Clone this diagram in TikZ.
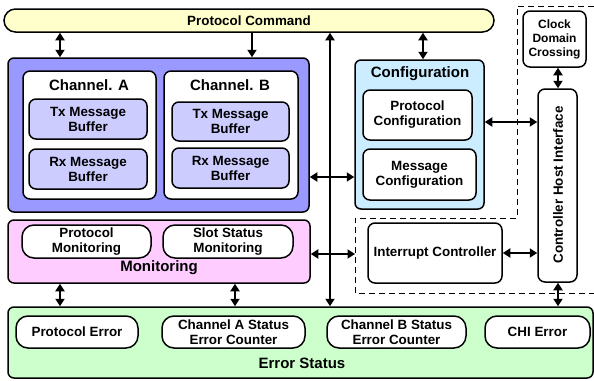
\documentclass[tikz,border=0pt]{standalone}
\usepackage{fontspec}
\setmainfont{Liberation Sans}
\usetikzlibrary{arrows.meta}
\definecolor{cmdfill}{HTML}{FFFFCC}
\definecolor{chnfill}{HTML}{9999FF}
\definecolor{buffill}{HTML}{CCCCFF}
\definecolor{cfgfill}{HTML}{CCECFF}
\definecolor{monfill}{HTML}{FFCCFF}
\definecolor{errfill}{HTML}{CCFFCC}
\begin{document}
\begin{tikzpicture}[x=1pt,y=-1pt,
  blk/.style={draw=black, line width=1.5pt, rounded corners=7pt, align=center,
    inner sep=0pt, font=\bfseries\fontsize{13.4}{15}\selectfont},
  wbox/.style={blk, fill=white},
  pill/.style={blk, fill=white, rounded corners=12pt},
  ttl/.style={font=\bfseries\fontsize{15}{17}\selectfont, inner sep=0pt},
  dbl/.style={{Triangle[length=7.5pt,width=9pt]}-{Triangle[length=7.5pt,width=9pt]}, line width=2.6pt},
  sgl/.style={-{Triangle[length=7.5pt,width=9pt]}, line width=2.6pt}
]
\useasboundingbox (0,0) rectangle (594,380);

% host-side region boundary
\draw[line width=0.9pt, dash pattern=on 6pt off 4pt]
  (594,6) -- (517,6) -- (517,218) -- (355,218) -- (355,293) -- (594,293);

% protocol command bar
\node[blk, fill=cmdfill, rounded corners=11.5pt, minimum width=490pt, minimum height=23pt]
  (pc) at (249,20.5) {Protocol Command};

% channels
\node[blk, fill=chnfill, rounded corners=6pt, minimum width=301pt, minimum height=154pt]
  (chn) at (158.5,135) {};
\node[wbox, minimum width=133pt, minimum height=128pt] (cha) at (89.5,135) {};
\node[wbox, minimum width=134pt, minimum height=128pt] (chb) at (231,135) {};
\node[ttl] (chat) at (89,85) {Channel. A};
\node[ttl] (chbt) at (230,85) {Channel. B};
\node[blk, fill=buffill, minimum width=118pt, minimum height=40pt] (txa) at (88,119) {Tx Message\\Buffer};
\node[blk, fill=buffill, minimum width=118pt, minimum height=40pt] (rxa) at (88,169) {Rx Message\\Buffer};
\node[blk, fill=buffill, minimum width=117pt, minimum height=39pt] (txb) at (230.5,121.5) {Tx Message\\Buffer};
\node[blk, fill=buffill, minimum width=117pt, minimum height=40pt] (rxb) at (230.5,168) {Rx Message\\Buffer};

% configuration
\node[blk, fill=cfgfill, rounded corners=6pt, minimum width=129pt, minimum height=149pt]
  (cfg) at (419.5,134.5) {};
\node[ttl] (cfgt) at (420,74) {Configuration};
\node[wbox, minimum width=109pt, minimum height=50pt] (pcf) at (417.5,115) {Protocol\\Configuration};
\node[wbox, minimum width=113pt, minimum height=51pt] (mcf) at (419.5,174.5) {Message\\Configuration};

% host interface side
\node[wbox, font=\bfseries\fontsize{12}{14}\selectfont, minimum width=63pt, minimum height=56pt]
  (cdc) at (554.5,39) {Clock\\Domain\\Crossing};
\node[wbox, minimum width=39pt, minimum height=193pt] (chi) at (557.5,185.5) {};
\node[font=\bfseries\fontsize{13.4}{15}\selectfont, rotate=90, inner sep=0pt] (chit) at (558,185) {Controller Host Interface};
\node[wbox, minimum width=134pt, minimum height=60pt] (intc) at (435,253) {Interrupt Controller};

% monitoring
\node[blk, fill=monfill, rounded corners=6pt, minimum width=302pt, minimum height=63pt]
  (mon) at (159,251.5) {};
\node[pill, minimum width=129pt, minimum height=33pt] (pmon) at (86.5,241.5) {Protocol\\Monitoring};
\node[pill, minimum width=130pt, minimum height=33pt] (smon) at (228,241.5) {Slot Status\\Monitoring};
\node[ttl] (mont) at (159,268) {Monitoring};

% error status
\node[blk, fill=errfill, rounded corners=6pt, minimum width=585pt, minimum height=71pt]
  (err) at (300.5,342.5) {};
\node[pill, minimum width=122pt, minimum height=32pt] (perr) at (77,332) {Protocol Error};
\node[pill, minimum width=143pt, minimum height=32pt] (caerr) at (233.5,332) {Channel A Status\\Error Counter};
\node[pill, minimum width=139pt, minimum height=32pt] (cberr) at (396.5,332) {Channel B Status\\Error Counter};
\node[pill, minimum width=105pt, minimum height=32pt] (chierr) at (537.5,332) {CHI Error};
\node[ttl] (errt) at (302,363) {Error Status};

% connector positions
\coordinate (xa) at (60,0);
\coordinate (xb) at (252,0);
\coordinate (xbus) at (330,0);
\coordinate (xc) at (423,0);
\coordinate (xm) at (235,0);
\coordinate (xh) at (558,0);
\coordinate (irq) at (355,254);

% connectors
\draw[dbl] (pc.south -| xa) -- (chn.north -| xa);
\draw[sgl] (pc.south -| xb) -- (chn.north -| xb);
\draw[dbl] (pc.south -| xbus) -- (err.north -| xbus);
\draw[dbl] (chn.east |- 0,177) -- (cfg.west |- 0,177);
\draw[dbl] (mon.east |- irq) -- (irq);
\draw[dbl] (pc.south -| xc) -- (cfg.north -| xc);
\draw[dbl] (cfg.east |- 0,122) -- (chi.west |- 0,122);
\draw[dbl] (cdc.south -| xh) -- (chi.north -| xh);
\draw[dbl] (intc.east) -- (chi.west |- intc.east);
\draw[dbl] (chi.south -| xh) -- (err.north -| xh);
\draw[dbl] (mon.south -| xa) -- (err.north -| xa);
\draw[dbl] (mon.south -| xm) -- (err.north -| xm);
\end{tikzpicture}
\end{document}
